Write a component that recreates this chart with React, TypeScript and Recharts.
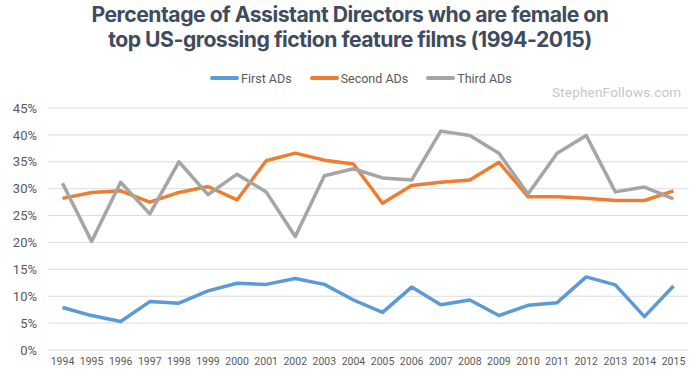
import React from 'react';
import { LineChart, Line, XAxis, YAxis, CartesianGrid } from 'recharts';

const years = ['1994','1995','1996','1997','1998','1999','2000','2001','2002','2003','2004','2005','2006','2007','2008','2009','2010','2011','2012','2013','2014','2015'];
const firstADs = [7.9, 6.4, 5.3, 9.0, 8.7, 11.0, 12.4, 12.2, 13.3, 12.2, 9.3, 7.0, 11.7, 8.4, 9.3, 6.4, 8.3, 8.8, 13.6, 12.1, 6.2, 11.9];
const secondADs = [28.2, 29.3, 29.6, 27.5, 29.3, 30.4, 27.9, 35.2, 36.6, 35.3, 34.6, 27.3, 30.6, 31.2, 31.6, 34.9, 28.5, 28.5, 28.2, 27.8, 27.8, 29.6];
const thirdADs = [31.0, 20.2, 31.2, 25.3, 35.0, 28.9, 32.7, 29.4, 21.1, 32.4, 33.7, 32.0, 31.6, 40.7, 39.9, 36.6, 29.0, 36.6, 39.9, 29.4, 30.3, 28.1];
const yTicks = [0, 5, 10, 15, 20, 25, 30, 35, 40, 45];
const seriesNames = ['First ADs', 'Second ADs', 'Third ADs'];
const colors = ['#5b9bd5', '#ed7d31', '#a5a5a5'];

const data = years.map((y, i) => ({ year: y, first: firstADs[i], second: secondADs[i], third: thirdADs[i] }));

export default function App() {
  const font = 'Roboto, "Noto Sans", sans-serif';
  return (
    <div style={{ position: 'fixed', left: 0, top: 0, width: 700, height: 378, background: '#fff', fontFamily: font }}>
      <div style={{ position: 'absolute', left: 0, top: 2, width: 700, textAlign: 'center', color: '#414b5e', fontWeight: 700, fontSize: 21.2, lineHeight: '25px', fontFamily: 'Inter, Roboto, sans-serif', letterSpacing: -0.5 }}>
        Percentage of Assistant Directors who are female on<br />top US-grossing fiction feature films (1994-2015)
      </div>
      <div style={{ position: 'absolute', left: 210, top: 69, height: 18, display: 'flex', alignItems: 'center', fontSize: 12.5, color: '#595959' }}>
        {seriesNames.map((n, i) => (
          <div key={n} style={{ display: 'flex', alignItems: 'center', marginRight: 18 }}>
            <div style={{ width: 29, height: 3.5, background: colors[i], borderRadius: 2, marginRight: 2 }} />
            <span>{n}</span>
          </div>
        ))}
      </div>
      <div style={{ position: 'absolute', left: 552, top: 84, fontSize: 13.5, color: '#c6c6c6', letterSpacing: 0.2 }}>StephenFollows.com</div>
      <LineChart width={700} height={378} data={data} margin={{ top: 108, right: 12, bottom: 0, left: 0 }} style={{ position: 'absolute', left: 0, top: 0 }}>
        <CartesianGrid vertical={false} stroke="#dcdcdc" />
        <XAxis dataKey="year" axisLine={false} tickLine={false} height={28} padding={{ left: 14.5, right: 14.5 }} tick={{ fontSize: 10.5, fill: '#595959' }} interval={0} />
        <YAxis domain={[0, 45]} ticks={yTicks} axisLine={false} tickLine={false} width={48} tickMargin={5} tickFormatter={(v) => `${v}%`} tick={{ fontSize: 13, fill: '#595959' }} />
        <Line dataKey="first" stroke={colors[0]} strokeWidth={3.5} dot={false} isAnimationActive={false} strokeLinejoin="round" />
        <Line dataKey="second" stroke={colors[1]} strokeWidth={3.5} dot={false} isAnimationActive={false} strokeLinejoin="round" />
        <Line dataKey="third" stroke={colors[2]} strokeWidth={3.5} dot={false} isAnimationActive={false} strokeLinejoin="round" />
      </LineChart>
    </div>
  );
}
